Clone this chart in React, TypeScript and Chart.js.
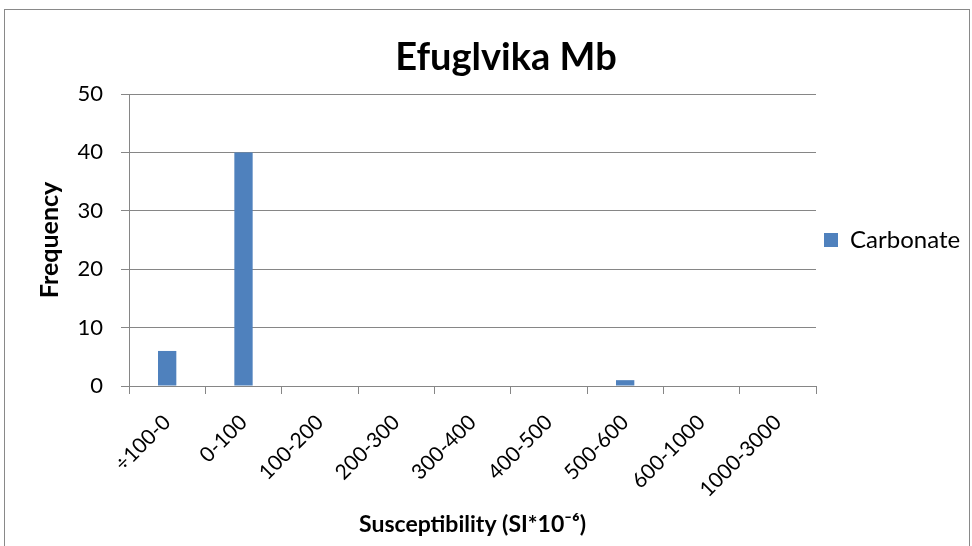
import React, { useEffect, useRef } from "react";
import { Chart, registerables } from "chart.js";

Chart.register(...registerables);

const categories = ["÷100-0", "0-100", "100-200", "200-300", "300-400", "400-500", "500-600", "600-1000", "1000-3000"];
const carbonate = [6, 40, 0, 0, 0, 0, 1, 0, 0];
const seriesName = "Carbonate";
const chartTitle = "Efuglvika Mb";
const xTitle = "Susceptibility (SI*10⁻⁶)";
const yTitle = "Frequency";
const yMin = 0;
const yMax = 50;
const yStep = 10;

const FONT = "Lato, 'Open Sans', sans-serif";
const GRID = "#868686";
const BAR = "#4F81BD";
const LEGEND_FONT = 24;
const LEGEND_BOX = 14;
const LEGEND_PAD = 8;
const PLOT_RIGHT = 818;

const framePlugin = {
  id: "frame",
  beforeDraw(chart: any) {
    const ctx = chart.ctx;
    ctx.save();
    ctx.fillStyle = "#ffffff";
    ctx.fillRect(0, 0, chart.width, chart.height);
    ctx.strokeStyle = "#898989";
    ctx.lineWidth = 1;
    ctx.strokeRect(4.5, 9.5, 965, 700);
    ctx.restore();
  },
  afterDraw(chart: any) {
    const ctx = chart.ctx;
    ctx.save();
    ctx.fillStyle = "#000000";
    ctx.font = `bold 38px ${FONT}`;
    ctx.textAlign = "center";
    ctx.textBaseline = "alphabetic";
    ctx.fillText(chartTitle, 506, 70);
    ctx.restore();
  },
};

export default function App() {
  const ref = useRef<HTMLCanvasElement | null>(null);
  useEffect(() => {
    if (!ref.current) return;
    const mctx = document.createElement("canvas").getContext("2d")!;
    mctx.font = `${LEGEND_FONT}px ${FONT}`;
    const tw = mctx.measureText(seriesName).width;
    const legendWidth = LEGEND_PAD * 2 + LEGEND_BOX + LEGEND_FONT / 2 + tw;
    const padRight = Math.max(0, 972 - PLOT_RIGHT - legendWidth);

    const chart = new Chart(ref.current, {
      type: "bar",
      data: {
        labels: categories,
        datasets: [
          {
            label: seriesName,
            data: carbonate,
            backgroundColor: BAR,
            borderWidth: 0,
            categoryPercentage: 1,
            barPercentage: 0.24,
          },
        ],
      },
      options: {
        responsive: false,
        animation: false,
        devicePixelRatio: 1,
        layout: { padding: { left: 30, right: padRight, top: 94, bottom: 6 } },
        plugins: {
          title: { display: false },
          legend: {
            display: true,
            position: "right",
            fullSize: false,
            labels: {
              color: "#000000",
              font: { family: FONT, size: LEGEND_FONT },
              boxWidth: LEGEND_BOX,
              boxHeight: LEGEND_BOX,
              padding: LEGEND_PAD,
            },
          },
          tooltip: { enabled: false },
        },
        scales: {
          x: {
            offset: true,
            grid: {
              offset: true,
              drawOnChartArea: false,
              drawTicks: true,
              tickLength: 8,
              color: GRID,
            },
            border: { display: true, color: GRID },
            ticks: {
              color: "#000000",
              font: { family: FONT, size: 21 },
              minRotation: 45,
              maxRotation: 45,
              autoSkip: false,
              padding: 16,
            },
            title: {
              display: true,
              text: xTitle,
              color: "#000000",
              font: { family: FONT, size: 23, weight: "bold" },
              padding: { top: 0, bottom: 2 },
            },
            afterFit(scale: any) {
              scale.height = 154;
            },
          },
          y: {
            min: yMin,
            max: yMax,
            grid: { color: GRID, tickLength: 8, drawTicks: true },
            border: { display: true, color: GRID },
            ticks: {
              stepSize: yStep,
              color: "#000000",
              font: { family: FONT, size: 22 },
              padding: 18,
            },
            title: {
              display: true,
              text: yTitle,
              color: "#000000",
              font: { family: FONT, size: 25, weight: "bold" },
              padding: { top: 5, bottom: 2 },
            },
            afterFit(scale: any) {
              scale.width = 99;
            },
          },
        },
      },
      plugins: [framePlugin],
    });
    return () => chart.destroy();
  }, []);
  return (
    <div style={{ position: "fixed", left: 0, top: 0, width: 972, height: 546, background: "#fff" }}>
      <canvas ref={ref} width={972} height={546} style={{ display: "block" }} />
    </div>
  );
}
